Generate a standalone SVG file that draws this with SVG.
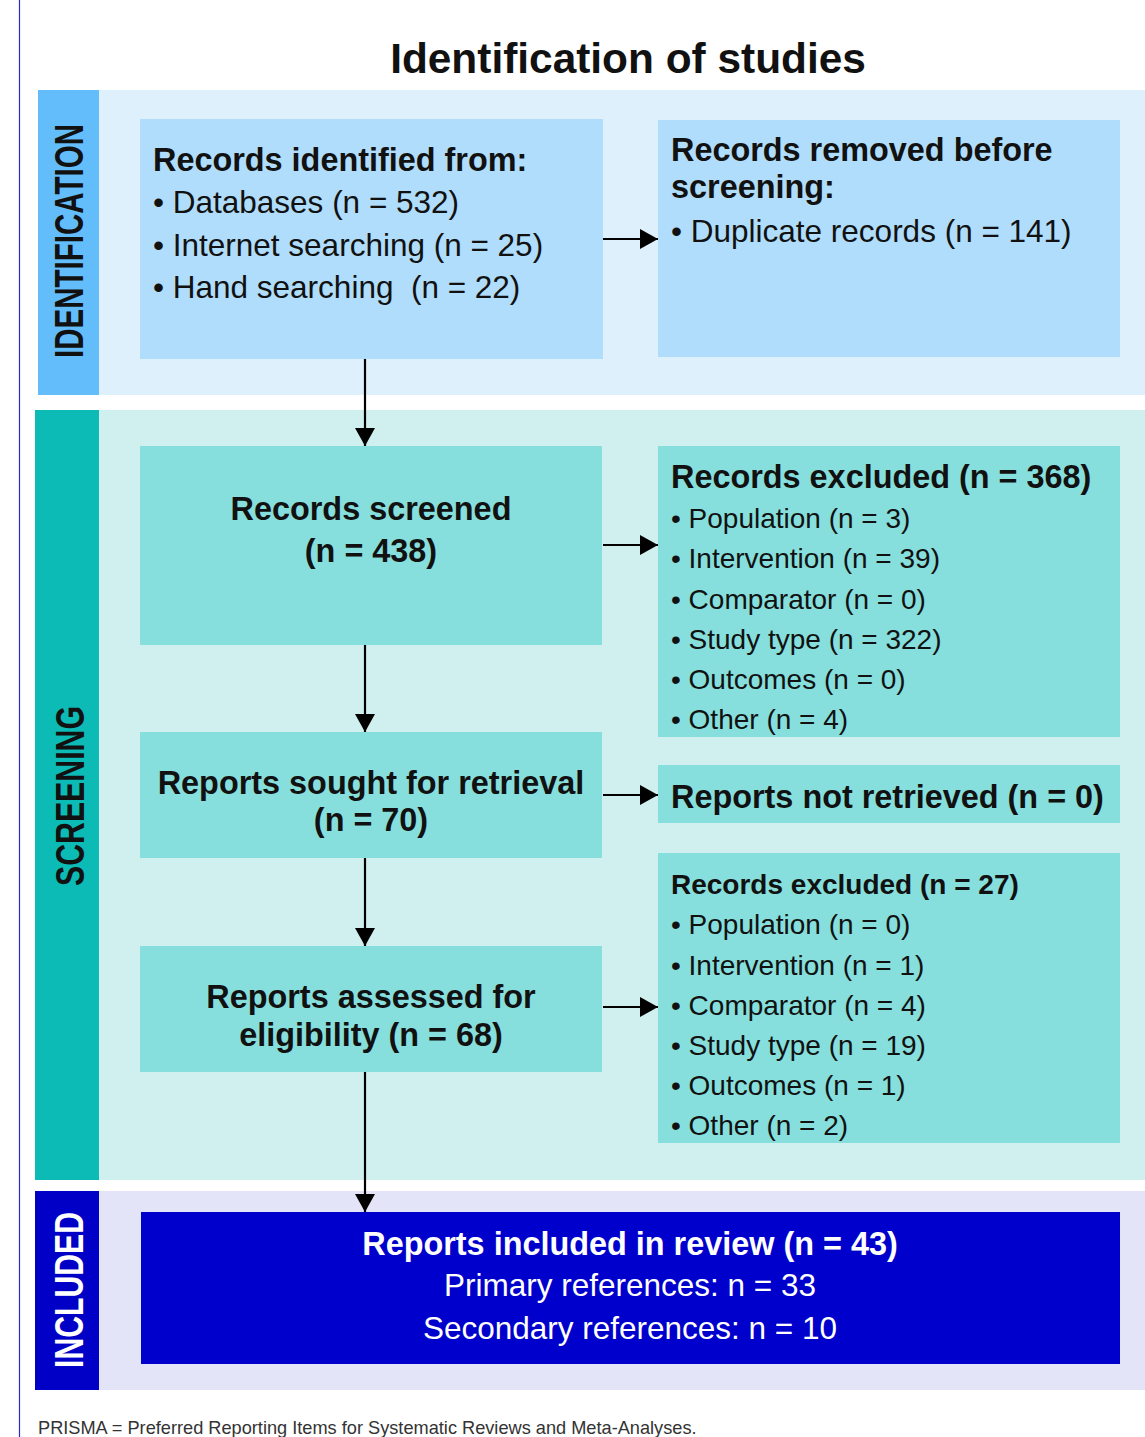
<svg xmlns="http://www.w3.org/2000/svg" width="1145" height="1437" viewBox="0 0 1145 1437">
<style>
text{font-family:"Liberation Sans",Arial,sans-serif;fill:#111}
.b{font-weight:bold}
.t32{font-size:32.4px}
.t31{font-size:31.5px}
.t28{font-size:28px}
.c{text-anchor:middle}
.w{fill:#fff}
.lab{font-size:40px;font-weight:bold;text-anchor:middle}
.n1{fill:#b0ddfb}
.n2{fill:#86dfdc}
.edge{stroke:#000;stroke-width:2.2;fill:none;marker-end:url(#ah)}
</style>
<defs>
<marker id="ah" markerUnits="userSpaceOnUse" markerWidth="18" markerHeight="20" refX="18" refY="10" orient="auto">
<path d="M0,0 L18,10 L0,20 z" fill="#000"/>
</marker>
</defs>
<rect width="1145" height="1437" fill="#fff"/>
<line x1="19.5" y1="0" x2="19.5" y2="1437" stroke="#2a2ac8" stroke-width="1.2"/>
<text x="628" y="73" class="b c" style="font-size:42.4px">Identification of studies</text>

<g id="band-identification">
<rect x="38" y="90" width="1107" height="305" fill="#dff0fd"/>
<rect x="38" y="90" width="61" height="305" fill="#63bdfb"/>
<text class="lab" transform="translate(83,241) rotate(-90)" textLength="234" lengthAdjust="spacingAndGlyphs">IDENTIFICATION</text>
</g>
<g id="band-screening">
<rect x="35" y="410" width="1110" height="770" fill="#cff0ef"/>
<rect x="35" y="410" width="64" height="770" fill="#0dbbb6"/>
<text class="lab" transform="translate(84,796) rotate(-90)" textLength="180" lengthAdjust="spacingAndGlyphs">SCREENING</text>
</g>
<g id="band-included">
<rect x="35" y="1191" width="1110" height="199" fill="#e4e4f8"/>
<rect x="35" y="1191" width="64" height="199" fill="#0000c6"/>
<text class="lab w" transform="translate(83,1290) rotate(-90)" textLength="156" lengthAdjust="spacingAndGlyphs">INCLUDED</text>
</g>

<g id="node-identified">
<rect class="n1" x="140" y="119" width="463" height="240"/>
<text x="153" y="171" class="b t32">Records identified from:</text>
<text x="153" y="213" class="t31">• Databases (n = 532)</text>
<text x="153" y="256" class="t31">• Internet searching (n = 25)</text>
<text x="153" y="298" class="t31">• Hand searching &#160;(n = 22)</text>
</g>
<g id="node-removed">
<rect class="n1" x="658" y="120" width="462" height="237"/>
<text x="671" y="161" class="b t32">Records removed before</text>
<text x="671" y="198" class="b t32">screening:</text>
<text x="671" y="242" class="t31">• Duplicate records (n = 141)</text>
</g>
<g id="node-screened">
<rect class="n2" x="140" y="446" width="462" height="199"/>
<text x="371" y="520" class="b t32 c">Records screened</text>
<text x="371" y="562" class="b t32 c">(n = 438)</text>
</g>
<g id="node-excluded1">
<rect class="n2" x="658" y="446" width="462" height="291"/>
<text x="671" y="488" class="b t32">Records excluded (n = 368)</text>
<text x="671" y="528" class="t28">• Population (n = 3)</text>
<text x="671" y="568" class="t28">• Intervention (n = 39)</text>
<text x="671" y="609" class="t28">• Comparator (n = 0)</text>
<text x="671" y="649" class="t28">• Study type (n = 322)</text>
<text x="671" y="689" class="t28">• Outcomes (n = 0)</text>
<text x="671" y="729" class="t28">• Other (n = 4)</text>
</g>
<g id="node-sought">
<rect class="n2" x="140" y="732" width="462" height="126"/>
<text x="371" y="794" class="b t32 c">Reports sought for retrieval</text>
<text x="371" y="831" class="b t32 c">(n = 70)</text>
</g>
<g id="node-notretrieved">
<rect class="n2" x="658" y="765" width="462" height="58"/>
<text x="671" y="808" class="b t32">Reports not retrieved (n = 0)</text>
</g>
<g id="node-assessed">
<rect class="n2" x="140" y="946" width="462" height="126"/>
<text x="371" y="1008" class="b t32 c">Reports assessed for</text>
<text x="371" y="1046" class="b t32 c">eligibility (n = 68)</text>
</g>
<g id="node-excluded2">
<rect class="n2" x="658" y="853" width="462" height="290"/>
<text x="671" y="894" class="b t28">Records excluded (n = 27)</text>
<text x="671" y="934" class="t28">• Population (n = 0)</text>
<text x="671" y="975" class="t28">• Intervention (n = 1)</text>
<text x="671" y="1015" class="t28">• Comparator (n = 4)</text>
<text x="671" y="1055" class="t28">• Study type (n = 19)</text>
<text x="671" y="1095" class="t28">• Outcomes (n = 1)</text>
<text x="671" y="1135" class="t28">• Other (n = 2)</text>
</g>
<g id="node-included">
<rect x="141" y="1212" width="979" height="152" fill="#0000cc"/>
<text x="630" y="1255" class="b t32 c w">Reports included in review (n = 43)</text>
<text x="630" y="1296" class="t31 c w">Primary references: n = 33</text>
<text x="630" y="1339" class="t31 c w">Secondary references: n = 10</text>
</g>

<g id="connectors">
<line class="edge" x1="365" y1="359" x2="365" y2="446"/>
<line class="edge" x1="365" y1="645" x2="365" y2="732"/>
<line class="edge" x1="365" y1="858" x2="365" y2="946"/>
<line class="edge" x1="365" y1="1072" x2="365" y2="1212"/>
<line class="edge" x1="603" y1="239" x2="658" y2="239"/>
<line class="edge" x1="603" y1="545" x2="658" y2="545"/>
<line class="edge" x1="603" y1="795" x2="658" y2="795"/>
<line class="edge" x1="603" y1="1007" x2="658" y2="1007"/>
</g>

<text x="38" y="1434" style="font-size:18.2px;fill:#333">PRISMA = Preferred Reporting Items for Systematic Reviews and Meta-Analyses.</text>
</svg>
